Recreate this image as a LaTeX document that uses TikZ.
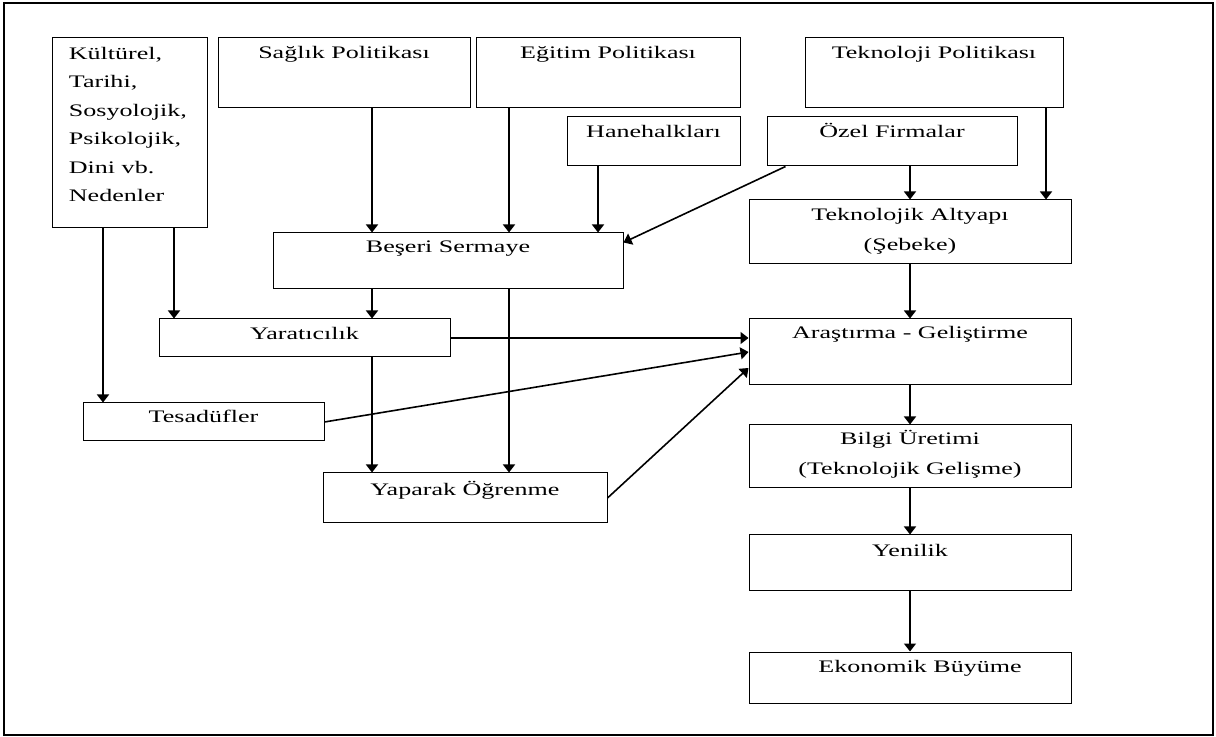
\documentclass[tikz,border=0pt]{standalone}
\usepackage{fontspec}
\setmainfont[FakeStretch=1.48]{Liberation Serif}
\usetikzlibrary{arrows.meta,positioning}

\tikzset{
  kutu/.style={draw, line width=.5pt, inner sep=0pt},
  yazi/.style={inner sep=0pt, align=center, anchor=base, font=\fontsize{8.8pt}{15pt}\selectfont},
  ok/.style={-{Triangle[length=4pt,width=6pt]}, line width=.8pt}
}

\begin{document}
\begin{tikzpicture}[x=0.5pt, y=-0.5pt]
    \useasboundingbox (0,0) rectangle (1216,737);
    \draw[line width=1.2pt] (4,3) rectangle (1213,735);

    % kutular
    \node[kutu, minimum width=77.5pt, minimum height=95pt] (kultur) at (129.5,133) {};
    \node[kutu, minimum width=126pt, minimum height=35pt] (saglik) at (344,73) {};
    \node[kutu, minimum width=132pt, minimum height=35pt] (egitim) at (608,73) {};
    \node[kutu, minimum width=129pt, minimum height=35pt] (teknoloji) at (934,73) {};
    \node[kutu, minimum width=86.5pt, minimum height=24.5pt] (hane) at (653.5,141.5) {};
    \node[kutu, minimum width=125pt, minimum height=24.5pt] (ozel) at (892,141.5) {};
    \node[kutu, minimum width=161pt, minimum height=32pt] (altyapi) at (910,232) {};
    \node[kutu, minimum width=175pt, minimum height=28pt] (beseri) at (448,261) {};
    \node[kutu, minimum width=145.5pt, minimum height=19pt] (yaraticilik) at (304.5,338) {};
    \node[kutu, minimum width=161pt, minimum height=33pt] (arge) at (910,352) {};
    \node[kutu, minimum width=120.5pt, minimum height=19pt] (tesaduf) at (203.5,422) {};
    \node[kutu, minimum width=142pt, minimum height=25pt] (yaparak) at (465,498) {};
    \node[kutu, minimum width=161pt, minimum height=31.5pt] (bilgi) at (910,456.5) {};
    \node[kutu, minimum width=161pt, minimum height=27.5pt] (yenilik) at (910,562.5) {};
    \node[kutu, minimum width=161pt, minimum height=25.5pt] (buyume) at (910,677.5) {};

    % yazilar (cok satirlilarda base = son satir)
    \node[yazi, align=left, anchor=base west, font=\fontsize{8.8pt}{14.25pt}\selectfont] (kulturY)
        at ([xshift=8.5pt, yshift=-82.25pt]kultur.north west)
        {Kültürel,\\Tarihi,\\Sosyolojik,\\Psikolojik,\\Dini vb.\\Nedenler};
    \node[yazi] (saglikY) at ([yshift=-10.5pt]saglik.north) {Sağlık Politikası};
    \node[yazi] (egitimY) at ([yshift=-10.5pt]egitim.north) {Eğitim Politikası};
    \node[yazi] (teknolojiY) at ([yshift=-10.5pt]teknoloji.north) {Teknoloji Politikası};
    \node[yazi] (haneY) at ([yshift=-10.5pt]hane.north) {Hanehalkları};
    \node[yazi] (ozelY) at ([yshift=-10.5pt]ozel.north) {Özel Firmalar};
    \node[yazi] (altyapiY) at ([yshift=-25.5pt]altyapi.north) {Teknolojik Altyapı\\(Şebeke)};
    \node[yazi] (beseriY) at ([yshift=-10pt]beseri.north) {Beşeri Sermaye};
    \node[yazi] (yaraticilikY) at ([yshift=-10.5pt]yaraticilik.north) {Yaratıcılık};
    \node[yazi] (argeY) at ([yshift=-10pt]arge.north) {Araştırma - Geliştirme};
    \node[yazi] (tesadufY) at ([yshift=-10pt]tesaduf.north) {Tesadüfler};
    \node[yazi] (yaparakY) at ([yshift=-11.5pt]yaparak.north) {Yaparak Öğrenme};
    \node[yazi] (bilgiY) at ([yshift=-25pt]bilgi.north) {Bilgi Üretimi\\(Teknolojik Gelişme)};
    \node[yazi] (yenilikY) at ([yshift=-11pt]yenilik.north) {Yenilik};
    \node[yazi] (buyumeY) at ([xshift=5pt, yshift=-10.5pt]buyume.north) {Ekonomik Büyüme};

    % oklar
    \draw[ok] ([xshift=-13.25pt]kultur.south) -- ([xshift=-13.25pt]kultur.south |- tesaduf.north);
    \draw[ok] ([xshift=22.25pt]kultur.south) -- ([xshift=22.25pt]kultur.south |- yaraticilik.north);
    \draw[ok] ([xshift=14pt]saglik.south) -- ([xshift=14pt]saglik.south |- beseri.north);
    \draw[ok] ([xshift=-49.5pt]egitim.south) -- ([xshift=-49.5pt]egitim.south |- beseri.north);
    \draw[ok] ([xshift=-27.75pt]hane.south) -- ([xshift=-27.75pt]hane.south |- beseri.north);
    \draw[ok] ([xshift=9.5pt]ozel.south west) -- ([yshift=-5pt]beseri.north east);
    \draw[ok] (ozel.south -| altyapi.north) -- (altyapi.north);
    \draw[ok] ([xshift=56pt]teknoloji.south) -- ([xshift=56pt]teknoloji.south |- altyapi.north);
    \draw[ok] (altyapi) -- (arge);
    \draw[ok] ([xshift=-38pt]beseri.south) -- ([xshift=-38pt]beseri.south |- yaraticilik.north);
    \draw[ok] ([xshift=30.5pt]beseri.south) -- ([xshift=30.5pt]beseri.south |- yaparak.north);
    \draw[ok] ([xshift=33.75pt]yaraticilik.south) -- ([xshift=33.75pt]yaraticilik.south |- yaparak.north);
    \draw[ok] (yaraticilik.east) -- (yaraticilik.east -| arge.west);
    \draw[ok] (tesaduf.east) -- (arge.west);
    \draw[ok] (yaparak.east) -- ([yshift=-8pt]arge.west);
    \draw[ok] (arge) -- (bilgi);
    \draw[ok] (bilgi) -- (yenilik);
    \draw[ok] (yenilik) -- (buyume);

  \end{tikzpicture}
\end{document}
